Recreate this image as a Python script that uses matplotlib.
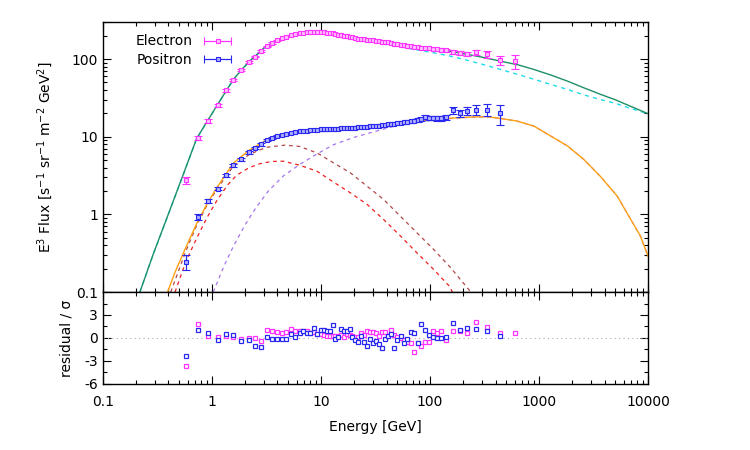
import numpy as np
import matplotlib
matplotlib.use("Agg")
import matplotlib.pyplot as plt
from matplotlib.ticker import LogLocator, FixedLocator, NullFormatter, FuncFormatter, MultipleLocator
from matplotlib.container import ErrorbarContainer
from matplotlib.legend_handler import HandlerErrorbar

plt.rcParams['font.family'] = ['DejaVu Sans']
plt.rcParams['axes.unicode_minus'] = False

# ---------------- data ----------------
energy_grid = [0.58, 0.74, 0.92, 1.13, 1.35, 1.58, 1.86, 2.18, 2.48, 2.82, 3.19, 3.57, 3.96, 4.40, 4.80,
               5.30, 5.80, 6.40, 6.90, 7.40, 8.00, 8.60, 9.30, 10.0, 10.7, 11.4, 12.1, 12.8, 13.6, 14.5,
               15.4, 16.3, 17.3, 18.4, 19.5, 20.7, 22.0, 23.3, 24.7, 26.3, 28.0, 29.8, 31.8, 33.9, 36.1,
               38.5, 41.1, 43.9, 47.0, 50.3, 53.9, 57.8, 62.1, 66.8, 71.9, 77.5, 83.7, 90.5, 98.0, 106,
               115, 126, 140]
electron_energy = energy_grid + [162, 188, 217, 267, 337, 437, 605]
positron_energy = energy_grid + [162, 188, 217, 267, 337, 437]

electron_flux = [2.76, 9.6, 16, 25.5, 39.5, 54.6, 72, 91, 108, 126, 146, 161, 174, 185, 194,
                 202, 208, 214, 218, 221, 224, 225, 225, 224, 222, 220, 217, 214, 211, 207,
                 204, 200, 197, 193, 190, 187, 184, 182, 180, 178, 176, 174, 172, 170, 168,
                 166, 164, 161, 158, 156, 154, 152, 149, 147, 145, 142, 140, 139, 138, 136,
                 134, 132, 130, 124, 121, 115, 123, 115, 97, 94]
electron_relerr = [0.10, 0.06, 0.05, 0.04, 0.035, 0.03, 0.03, 0.03, 0.025, 0.025, 0.025, 0.02, 0.02, 0.02, 0.02,
                   0.02, 0.02, 0.02, 0.02, 0.02, 0.02, 0.02, 0.02, 0.02, 0.02, 0.02, 0.02, 0.02, 0.02, 0.02,
                   0.02, 0.02, 0.02, 0.02, 0.02, 0.02, 0.02, 0.02, 0.02, 0.02, 0.02, 0.02, 0.02, 0.02, 0.02,
                   0.022, 0.022, 0.022, 0.024, 0.024, 0.025, 0.026, 0.027, 0.028, 0.03, 0.03, 0.032, 0.034, 0.036, 0.038,
                   0.04, 0.042, 0.045, 0.05, 0.055, 0.06, 0.07, 0.09, 0.14, 0.20]
positron_flux = [0.246, 0.93, 1.47, 2.14, 3.2, 4.27, 5.1, 6.3, 7.2, 7.95, 9.0, 9.7, 10.2, 10.6, 10.9,
                 11.2, 11.5, 11.8, 11.9, 12.0, 12.1, 12.2, 12.3, 12.4, 12.4, 12.5, 12.5, 12.6, 12.6, 12.7,
                 12.8, 12.9, 12.9, 13.0, 13.1, 13.1, 13.2, 13.3, 13.4, 13.5, 13.6, 13.7, 13.8, 13.9, 14.0,
                 14.2, 14.4, 14.5, 14.8, 15.0, 15.2, 15.3, 15.6, 15.8, 16.0, 16.4, 17.0, 18.0, 17.4, 17.3,
                 17.2, 17.3, 17.9, 22, 20, 21.4, 22.4, 22.4, 20]
positron_relerr = [0.22, 0.10, 0.06, 0.05, 0.045, 0.04, 0.04, 0.035, 0.035, 0.03, 0.03, 0.03, 0.03, 0.03, 0.03,
                   0.03, 0.03, 0.03, 0.03, 0.03, 0.03, 0.03, 0.03, 0.03, 0.03, 0.03, 0.03, 0.03, 0.03, 0.03,
                   0.03, 0.03, 0.03, 0.03, 0.03, 0.03, 0.03, 0.03, 0.03, 0.03, 0.03, 0.03, 0.03, 0.03, 0.03,
                   0.032, 0.033, 0.034, 0.035, 0.036, 0.038, 0.04, 0.042, 0.044, 0.046, 0.048, 0.05, 0.055, 0.06, 0.062,
                   0.065, 0.07, 0.08, 0.10, 0.11, 0.12, 0.14, 0.18, 0.30]

electron_resid = [-3.68, 1.82, 0.21, 0.1, 0.21, 0.1, -0.08, 0.0, 0.0, -0.38, 1.06, 0.85, 0.76, 0.63, 0.76,
                  1.18, 0.97, 0.97, 0.9, 0.85, 0.6, 0.76, 0.5, 0.46, 0.4, 0.25, 0.3, 0.25, 0.3, 0.25,
                  0.35, 0.13, 0.5, 0.34, 0.2, 0.13, 0.13, 0.6, 0.34, 0.89, 0.8, 0.76, 0.63, 0.3, 0.76,
                  0.76, 0.2, 1.06, 0.34, 0.1, 0.04, -0.21, -0.5, -0.72, -1.9, -0.72, -1.06, -0.51, -0.51, 0.89,
                  0.68, 0.89, -0.3, 0.85, 0.9, 0.63, 2.15, 1.48, 0.63, 0.63]
positron_resid = [-2.41, 1.1, 0.63, -0.21, 0.5, 0.42, -0.38, -0.3, -1.0, -1.22, 0.13, -0.08, -0.13, -0.13, -0.1,
                  0.55, 0.13, 0.63, 0.85, 0.63, 0.63, 1.27, 0.46, 1.1, 1.1, 0.97, 0.97, 1.69, -0.08, 0.13,
                  1.14, 0.89, 0.89, 1.14, 0.13, -0.21, -0.51, 0.3, -0.51, -1.06, -0.08, -0.72, -0.38, -0.85, -1.27,
                  -0.13, 0.3, 0.55, -1.27, -0.3, 0.21, -0.63, -0.13, 0.76, 0.63, -0.72, 1.82, 1.06, 0.34, 0.13,
                  0.0, 0.0, 0.13, 1.9, 1.06, 1.31, 1.18, 0.85, 0.3]

# model curves
e_total_E = [0.219, 0.29, 0.385, 0.54, 0.726, 1.11, 1.58, 2.16, 3.14, 4.0, 5.0, 6.3, 8.0, 10, 13, 17, 20,
             30, 50, 75, 100, 150, 200, 300, 445, 650, 900, 1300, 1829, 2600, 3700, 5000, 7000, 10000]
e_total_F = [0.1, 0.306, 0.88, 3.11, 9.5, 25, 55, 91, 147, 175, 195, 212, 222, 222, 212, 198, 190,
             172, 155, 143, 137, 127, 118, 106, 94, 84, 73.5, 62, 52, 42.5, 35, 30, 24.5, 19.8]
e_prim_E = [0.219, 0.29, 0.385, 0.54, 0.726, 1.11, 1.58, 2.16, 3.14, 4.0, 5.0, 6.3, 8.0, 10, 13, 17, 20,
            30, 50, 75, 100, 150, 200, 300, 445, 650, 900, 1300, 1829, 2600, 3700, 5000, 7000, 10000]
e_prim_F = [0.1, 0.305, 0.87, 3.08, 9.4, 24.8, 54.5, 90, 145, 172, 191, 206, 214, 212, 204, 190, 183,
            165, 146, 132, 123, 110, 100, 86, 73.5, 63, 55, 47, 40.6, 34.5, 30, 27, 23, 19.8]
p_total_E = [0.393, 0.46, 0.575, 0.726, 0.9, 1.11, 1.58, 2.2, 3.14, 4.0, 5.0, 7.0, 10, 20, 40, 80, 150,
             250, 337, 445, 632, 900, 1300, 1829, 2580, 3650, 5220, 6400, 8500, 10000]
p_total_F = [0.1, 0.18, 0.37, 0.76, 1.35, 2.2, 4.6, 6.7, 9.0, 10.2, 11.0, 11.8, 12.4, 13.1, 14.2, 16.0, 17.3,
             18.0, 18.1, 17.2, 15.9, 13.7, 10.1, 7.6, 5.1, 3.1, 1.72, 1.05, 0.53, 0.29]
p_sec1_E = [0.42, 0.575, 0.726, 0.9, 1.11, 1.58, 2.2, 3.14, 4.7, 6.4, 9.2, 13.1, 18.6, 26.5, 37.6, 53.5,
            76, 108, 155, 237]
p_sec1_F = [0.1, 0.33, 0.72, 1.3, 2.1, 4.2, 5.9, 7.3, 7.8, 7.5, 6.2, 4.6, 3.44, 2.31, 1.56, 0.95,
            0.58, 0.355, 0.206, 0.1]
p_sec2_E = [0.46, 0.58, 0.73, 0.9, 1.11, 1.4, 1.69, 2.2, 2.77, 3.5, 4.5, 6.4, 9.2, 13.1, 18.6, 26.5,
            37.6, 53.5, 76, 108, 150, 161]
p_sec2_F = [0.1, 0.25, 0.5, 0.9, 1.5, 2.4, 3.2, 4.0, 4.5, 4.8, 4.85, 4.3, 3.6, 2.6, 1.9, 1.35,
            0.86, 0.53, 0.32, 0.196, 0.12, 0.1]
p_src_E = [1.03, 1.3, 1.58, 2.0, 2.57, 3.3, 4.5, 6.4, 9.2, 13.1, 20, 30, 50, 80, 120, 200, 337, 445,
           632, 900, 1300, 1829, 2580, 3650, 5220, 6400, 8500, 10000]
p_src_F = [0.1, 0.22, 0.39, 0.72, 1.25, 2.0, 3.1, 4.4, 6.0, 7.9, 9.8, 11.5, 14.0, 15.4, 16.7, 17.6, 18.0, 17.2,
           15.9, 13.7, 10.1, 7.6, 5.1, 3.1, 1.72, 1.05, 0.53, 0.29]

x_ticks = [0.1, 1, 10, 100, 1000, 10000]
flux_ticks = [0.1, 1, 10, 100]
resid_ticks = [-6, -3, 0, 3]
legend_labels = ['Electron', 'Positron']

# ---------------- figure ----------------
MAG = '#ff33ff'
BLU = '#2828f0'

fig = plt.figure(figsize=(7.5, 4.5), dpi=100)
ax = fig.add_axes([0.137, 0.351, 0.727, 0.600])
axr = fig.add_axes([0.137, 0.147, 0.727, 0.204])

dash = (3, 3)
ax.plot(p_src_E, p_src_F, color='#a578f0', lw=0.9, dashes=dash)
ax.plot(p_sec2_E, p_sec2_F, color='#ee2020', lw=0.9, dashes=dash)
ax.plot(p_sec1_E, p_sec1_F, color='#b04848', lw=0.9, dashes=dash)
ax.plot(e_prim_E, e_prim_F, color='#22ddee', lw=1.0, dashes=dash)
ax.plot(e_total_E, e_total_F, color='#1f8f68', lw=1.0)
ax.plot(p_total_E, p_total_F, color='#ffa010', lw=1.0)

ef = np.array(electron_flux)
pf = np.array(positron_flux)
style_e = dict(fmt='s', ms=2.6, mfc='#ffc0ff', mec=MAG, mew=0.8, ecolor=MAG,
               elinewidth=0.9, capsize=3, capthick=0.9)
style_p = dict(fmt='s', ms=2.6, mfc='#b0b0ff', mec=BLU, mew=0.8, ecolor=BLU,
               elinewidth=0.9, capsize=3, capthick=0.9)
ax.errorbar(electron_energy, ef, yerr=ef * np.array(electron_relerr), **style_e)
ax.errorbar(positron_energy, pf, yerr=pf * np.array(positron_relerr), **style_p)

# legend proxies: horizontal error-bar samples as in the original key
h_e = ax.errorbar([np.nan], [np.nan], xerr=[1.0], **style_e)
h_p = ax.errorbar([np.nan], [np.nan], xerr=[1.0], **style_p)

for a in (ax, axr):
    a.set_xscale('log')
    a.set_xlim(0.1, 10000)
    a.xaxis.set_major_locator(FixedLocator(x_ticks))
    a.xaxis.set_minor_locator(LogLocator(base=10, subs=np.arange(2, 10), numticks=20))
    a.tick_params(which='both', direction='in', top=True, right=True, labelsize=10, colors='black')
    a.tick_params(which='major', length=6, width=0.8)
    a.tick_params(which='minor', length=3, width=0.8)
    for s in a.spines.values():
        s.set_linewidth(1.0)

ax.set_yscale('log')
ax.set_ylim(0.1, 300)
ax.yaxis.set_major_locator(FixedLocator(flux_ticks))
ax.yaxis.set_minor_locator(LogLocator(base=10, subs=np.arange(2, 10), numticks=20))
ax.yaxis.set_major_formatter(FuncFormatter(lambda v, p: '%g' % v))
ax.yaxis.set_minor_formatter(NullFormatter())
ax.xaxis.set_major_formatter(NullFormatter())
ax.xaxis.set_minor_formatter(NullFormatter())
ax.set_ylabel('E$^3$ Flux [s$^{-1}$ sr$^{-1}$ m$^{-2}$ GeV$^2$]', fontsize=10, labelpad=12)

axr.axhline(0, color='#aaaaaa', lw=0.8, ls=(0, (1, 3)))
axr.plot(electron_energy, electron_resid, 's', ms=3, mfc='white', mec=MAG, mew=0.9, ls='none')
axr.plot(positron_energy, positron_resid, 's', ms=3, mfc='white', mec=BLU, mew=0.9, ls='none')
axr.set_ylim(-6, 6)
axr.yaxis.set_major_locator(FixedLocator(resid_ticks))
axr.yaxis.set_minor_locator(MultipleLocator(1.5))
axr.xaxis.set_major_formatter(FuncFormatter(lambda v, p: '%g' % v))
axr.xaxis.set_minor_formatter(NullFormatter())
axr.set_ylabel('residual / σ', fontsize=10, labelpad=8)
axr.set_xlabel('Energy [GeV]', fontsize=10, labelpad=8)
axr.tick_params(axis='x', pad=8)

ax.legend([h_e, h_p], legend_labels, loc='upper left', bbox_to_anchor=(0.045, 0.985), frameon=False,
          markerfirst=False, fontsize=10, handlelength=2.4, handletextpad=0.6, labelspacing=0.35,
          borderaxespad=0.2, handler_map={ErrorbarContainer: HandlerErrorbar(xerr_size=0.95)})

fig.align_ylabels([ax, axr])
fig.savefig('out.png', dpi=100)
